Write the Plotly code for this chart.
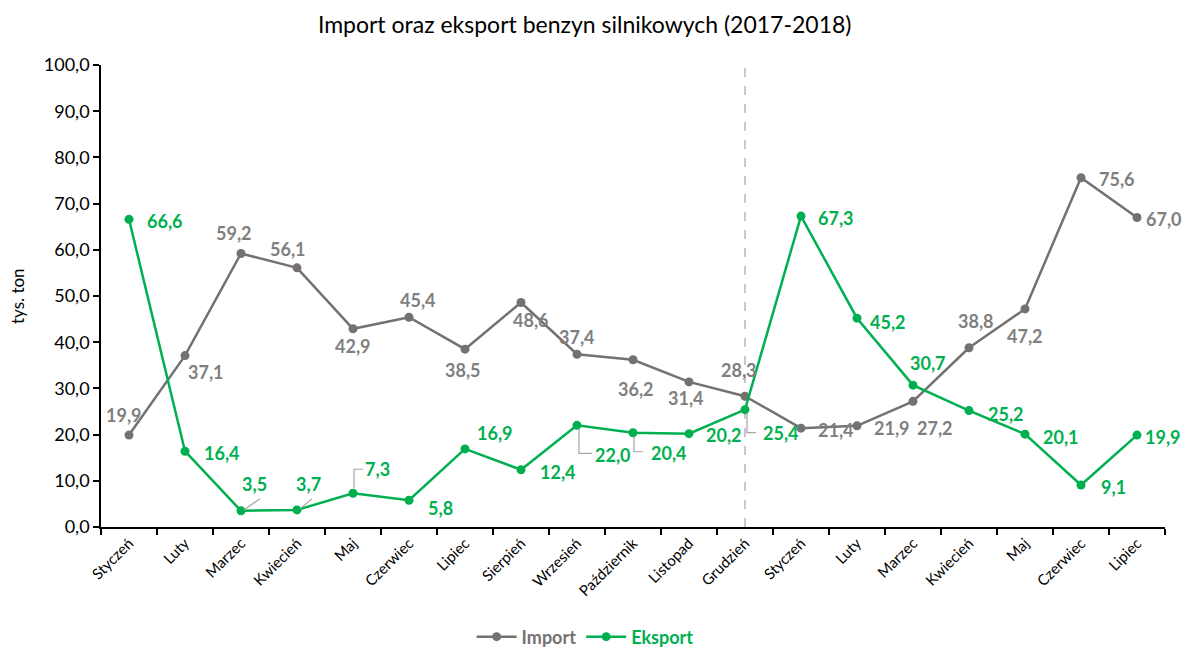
import plotly.graph_objects as go

months = ["Styczeń", "Luty", "Marzec", "Kwiecień", "Maj", "Czerwiec", "Lipiec",
          "Sierpień", "Wrzesień", "Październik", "Listopad", "Grudzień",
          "Styczeń", "Luty", "Marzec", "Kwiecień", "Maj", "Czerwiec", "Lipiec"]
import_vals = [19.9, 37.1, 59.2, 56.1, 42.9, 45.4, 38.5, 48.6, 37.4, 36.2, 31.4,
               28.3, 21.4, 21.9, 27.2, 38.8, 47.2, 75.6, 67.0]
export_vals = [66.6, 16.4, 3.5, 3.7, 7.3, 5.8, 16.9, 12.4, 22.0, 20.4, 20.2,
               25.4, 67.3, 45.2, 30.7, 25.2, 20.1, 9.1, 19.9]
# label texts as shown on the chart (Excel placed some labels near other points)
import_labels = ["19,9", "37,1", "59,2", "56,1", "42,9", "45,4", "38,5", "48,6", "37,4",
                 "36,2", "31,4", "28,3", "21,4", "21,9", "27,2", "38,8", "47,2", "75,6", "67,0"]
export_labels = ["66,6", "16,4", "3,5", "3,7", "7,3", "5,8", "16,9", "12,4", "22,0",
                 "20,4", "20,2", "25,4", "67,3", "45,2", "30,7", "25,2", "20,1", "9,1", "19,9"]

GRAY = "#767171"
GRAY_TXT = "#7f7f7f"
GREEN = "#00B050"
FONT = "Lato"

x = list(range(len(months)))

# label pixel offsets (dx right, dy down)
imp_off = [(-5, -20), (21, 16), (-7, -21), (-9, -19), (0, 17), (9, -17), (-2, 21),
           (10, 18), (0, -17), (3, 29), (-3, 16), (-6, -26), (35, 2), (35, 2),
           (22, 27), (7, -27), (0, 27), (36, 1), (27, 2)]
exp_off = [(36, 2), (37, 2), (13, -27), (11, -26), (24, -24), (31, 8), (30, -16),
           (37, 2), (36, 30), (36, 20), (35, 1), (36, 23), (35, 2), (31, 4),
           (15, -22), (37, 3), (36, 3), (32, 2), (26, 2)]
# leader line paths (pixel, y up) for some export labels
leaders = {
    2: "M 3 1 L 19 12",
    3: "M 3 1 L 15 11",
    4: "M 1 5 L 1 24 L 10 24",
    8: "M 2 -3 L 2 -28 L 15 -28",
    9: "M 1 -4 L 1 -19 L 10 -19",
    11: "M 2 -3 L 2 -23 L 11 -23",
}

fig = go.Figure()
fig.add_trace(go.Scatter(
    x=x, y=import_vals, mode="lines+markers",
    name=f"<b><span style='color:{GRAY}'>Import</span></b>",
    line=dict(color=GRAY, width=2.5), marker=dict(color=GRAY, size=9)))
fig.add_trace(go.Scatter(
    x=x, y=export_vals, mode="lines+markers",
    name=f"<b><span style='color:{GREEN}'>Eksport</span></b>",
    line=dict(color=GREEN, width=2.5), marker=dict(color=GREEN, size=9)))

annotations = []
for i, (v, t, (dx, dy)) in enumerate(zip(import_vals, import_labels, imp_off)):
    annotations.append(dict(x=i, y=v, text=f"<b>{t}</b>", showarrow=False,
                            xshift=dx, yshift=-dy,
                            font=dict(family=FONT, size=18, color=GRAY_TXT)))
for i, (v, t, (dx, dy)) in enumerate(zip(export_vals, export_labels, exp_off)):
    annotations.append(dict(x=i, y=v, text=f"<b>{t}</b>", showarrow=False,
                            xshift=dx, yshift=-dy,
                            font=dict(family=FONT, size=18, color=GREEN)))
# y-axis title
annotations.append(dict(x=-84 / 1064, y=0.5, xref="paper", yref="paper",
                        text="tys. ton", textangle=-90, showarrow=False,
                        xanchor="center", yanchor="middle",
                        font=dict(family=FONT, size=17, color="#000000")))

shapes = [dict(type="line", x0=11, x1=11, y0=0, y1=100, xref="x", yref="y",
               line=dict(color="#a6a6a6", width=1.2, dash="dash"), layer="below")]
for i, p in leaders.items():
    shapes.append(dict(type="path", xref="x", yref="y", xsizemode="pixel",
                       ysizemode="pixel", xanchor=i, yanchor=export_vals[i], path=p,
                       line=dict(color="#a6a6a6", width=1.2)))

fig.update_layout(
    width=1186, height=649,
    margin=dict(l=101, r=21, t=65, b=122, autoexpand=False),
    paper_bgcolor="white", plot_bgcolor="white",
    separators=", ",
    font=dict(family=FONT, color="#000000"),
    title=dict(text="Import oraz eksport benzyn silnikowych (2017-2018)",
               x=0.493, xanchor="center", y=0.962, yanchor="middle",
               font=dict(family=FONT, size=23, color="#000000")),
    showlegend=True,
    legend=dict(orientation="h", x=0.455, xanchor="center", y=-0.238, yanchor="middle",
                font=dict(family=FONT, size=18), itemwidth=40, tracegroupgap=0),
    annotations=annotations,
    shapes=shapes,
)
fig.update_xaxes(
    range=[-0.5, 18.5], tickvals=x, ticktext=months, tickangle=-45,
    ticks="", showgrid=False, zeroline=False, automargin=False,
    showline=True, linecolor="#000000", linewidth=1.5,
    tickfont=dict(family=FONT, size=15, color="#000000"),
    minor=dict(tickvals=[i - 0.5 for i in range(len(months) + 1)], ticks="outside",
               ticklen=6, tickcolor="#000000", tickwidth=1.5, showgrid=False),
)
fig.update_yaxes(
    range=[0, 100], dtick=10, tickformat=".1f", showgrid=False, zeroline=False,
    automargin=False,
    showline=True, linecolor="#000000", linewidth=1.5,
    ticks="outside", ticklen=6, tickcolor="#000000", tickwidth=1.5,
    tickfont=dict(family=FONT, size=18, color="#000000"),
)

fig.write_html("out.html", config={"displayModeBar": False},
               post_script="document.body.style.margin='0';")
